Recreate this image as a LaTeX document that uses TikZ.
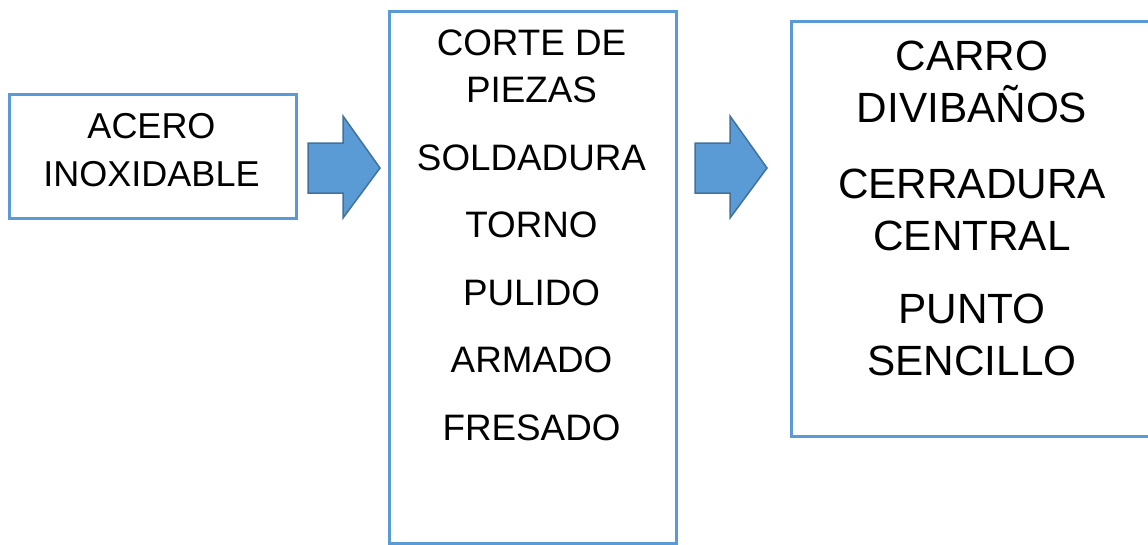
\documentclass[tikz,border=0pt]{standalone}
\usepackage{fontspec}
\setmainfont{Liberation Sans}
\definecolor{boxblue}{HTML}{5B9BD5}
\definecolor{arrowblue}{HTML}{5B9BD5}
\definecolor{arrowedge}{HTML}{41719C}
\begin{document}
\begin{tikzpicture}[x=1pt,y=-1pt,
  box/.style={draw=boxblue,line width=3pt,fill=white,anchor=north west,inner sep=0pt},
  lbl/.style={anchor=base,inner sep=0pt,font=\fontsize{36}{40}\selectfont},
  midlbl/.style={anchor=base,inner sep=0pt,font=\fontsize{36.8}{40}\selectfont},
  biglbl/.style={anchor=base,inner sep=0pt,font=\fontsize{42.3}{46}\selectfont},
  blockarrow/.style={fill=arrowblue,draw=arrowedge,line width=1.5pt,line join=miter}]
\useasboundingbox (0,0) rectangle (1148,544);
% boxes
\node[box,minimum width=287pt,minimum height=532pt] (proc) at (388,10) {};
\node[box,minimum width=287pt,minimum height=124pt] (src) at (8,93) {};
\node[box,minimum width=362pt,minimum height=415pt] (prod) at (790,20) {};
% block arrows
\draw[blockarrow] (308,143) -- (343,143) -- (343,116) -- (380,168) -- (343,218) -- (343,193) -- (308,193) -- cycle;
\draw[blockarrow] (695,143) -- (730,143) -- (730,116) -- (767,168) -- (730,218) -- (730,193) -- (695,193) -- cycle;
% texts box 1
\node[lbl] (t1) at (151.5,138) {ACERO};
\node[lbl] (t2) at (151.5,186) {INOXIDABLE};
% texts box 2
\node[midlbl] (p1) at (531.5,55) {CORTE DE};
\node[midlbl] (p2) at (531.5,102) {PIEZAS};
\node[midlbl] (p3) at (531.5,170) {SOLDADURA};
\node[midlbl] (p4) at (531.5,237) {TORNO};
\node[midlbl] (p5) at (531.5,305) {PULIDO};
\node[midlbl] (p6) at (531.5,372) {ARMADO};
\node[midlbl] (p7) at (531.5,440) {FRESADO};
% texts box 3
\node[biglbl] (r1) at (972,70) {CARRO};
\node[biglbl] (r2) at (972,122) {DIVIBAÑOS};
\node[biglbl] (r3) at (972,198) {CERRADURA};
\node[biglbl] (r4) at (972,250) {CENTRAL};
\node[biglbl] (r5) at (972,323) {PUNTO};
\node[biglbl] (r6) at (972,375) {SENCILLO};
\end{tikzpicture}
\end{document}
